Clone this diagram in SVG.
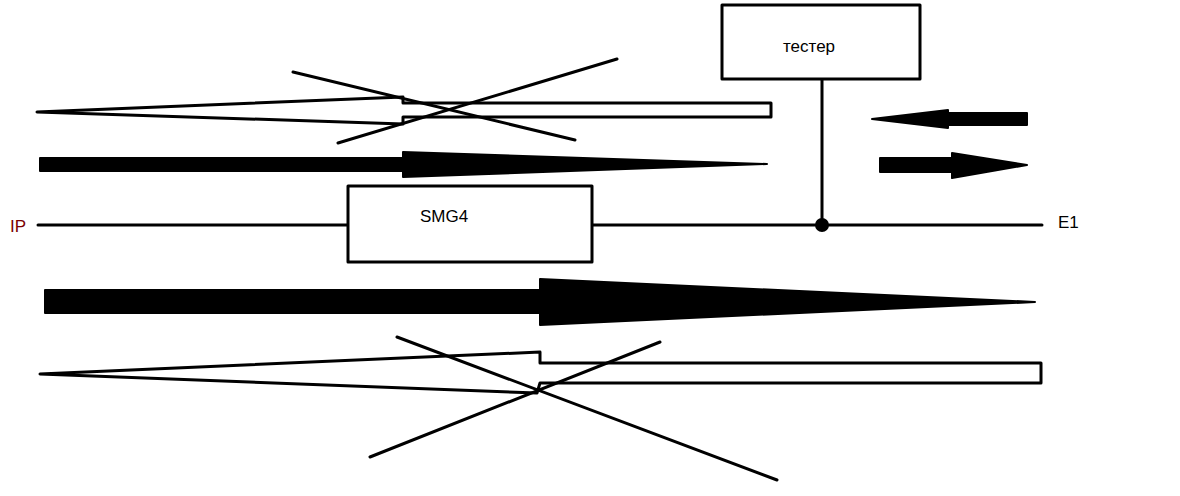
<svg xmlns="http://www.w3.org/2000/svg" width="1180" height="496" viewBox="0 0 1180 496">
<style>
.s{fill:none;stroke:#000;stroke-width:3;stroke-linejoin:round;stroke-linecap:round}
.f{fill:#000;stroke:#000;stroke-width:2;stroke-linejoin:round}
.o{fill:#fff;stroke:#000;stroke-width:3;stroke-linejoin:round}
text{font-family:"Liberation Sans",Arial,sans-serif;font-size:17px}
</style>
<rect width="1180" height="496" fill="#fff"/>
<g id="connectors">
<line class="s" x1="38" y1="225" x2="348" y2="225"/>
<line class="s" x1="592" y1="225" x2="1042" y2="225"/>
<line class="s" x1="822" y1="80" x2="822" y2="225"/>
<circle cx="822" cy="225" r="7" fill="#000"/>
<polygon class="o" points="37,112 403,97 403,103 771,103 771,117 403,117 403,124"/>
<polygon class="f" points="40,158 403,158 403,152 767,164 403,177 403,171 40,171"/>
<polygon class="f" points="45,290 540,290 540,279 1035,302 540,325 540,313 45,313"/>
<polygon class="o" points="40,374 540,352 540,363 1041,363 1041,383 540,383 537,393"/>
<line class="s" x1="293" y1="72" x2="575" y2="140"/>
<line class="s" x1="338" y1="143" x2="617" y2="59"/>
<line class="s" x1="397" y1="337" x2="777" y2="480"/>
<line class="s" x1="370" y1="457" x2="660" y2="342"/>
<polygon class="f" points="872,119 948,110 948,113 1027,113 1027,125 948,125 948,128"/>
<polygon class="f" points="880,158 952,158 952,153 1027,165 952,178 952,172 880,172"/>
</g>
<g id="tester"><rect class="o" x="722" y="5" width="198" height="74"/><text x="783" y="52">тестер</text></g>
<g id="smg4"><rect class="o" x="348" y="186" width="244" height="76"/><text x="420" y="222">SMG4</text></g>
<g id="ip"><text x="10" y="232" fill="#7a0000">IP</text></g>
<g id="e1"><text x="1058" y="228">E1</text></g>
</svg>
